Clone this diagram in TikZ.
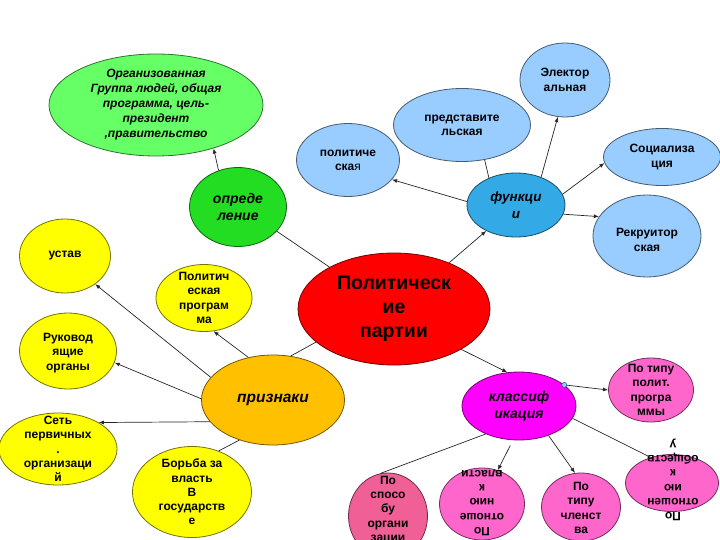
\documentclass[tikz,border=0pt]{standalone}
\usepackage{fontspec}
\setmainfont{Liberation Sans}
\usetikzlibrary{arrows.meta,shapes.geometric}
\definecolor{partyGreenLight}{RGB}{102,255,102}
\definecolor{partyGreen}{RGB}{34,221,34}
\definecolor{partyRed}{RGB}{255,0,0}
\definecolor{partyBlue}{RGB}{51,170,230}
\definecolor{partyBlueLight}{RGB}{153,204,255}
\definecolor{partyYellow}{RGB}{255,255,0}
\definecolor{partyOrange}{RGB}{255,192,0}
\definecolor{partyMagenta}{RGB}{255,0,255}
\definecolor{partyPink}{RGB}{255,102,204}
\definecolor{partyRose}{RGB}{240,96,150}

\begin{document}
\begin{tikzpicture}[
  x=1pt, y=-1pt,
  bubble/.style={ellipse, fill=#1, draw=#1!45!black, line width=0.8pt, inner sep=0pt},
  sz/.style 2 args={minimum width=#1pt, minimum height=#2pt},
  txt/.style={align=center, inner sep=0pt, font=\bfseries\fontsize{12}{14.3}\selectfont},
  head/.style={align=center, inner sep=0pt, font=\bfseries\itshape\fontsize{14}{17}\selectfont},
  link/.style={draw=black!85, line width=0.7pt},
  arrow/.style={link, -{Latex[length=1.8mm, width=1.4mm]}}
]
\useasboundingbox (0,0) rectangle (720,540);
\clip (0,0) rectangle (720,540);

% centre and definition
\node[bubble=partyRed, sz={192}{112}] (part) at (394,309) {};
\node[bubble=partyGreen, sz={97}{79}] (opr) at (238,207) {};
\node[bubble=partyGreenLight, sz={214}{102}] (org) at (156,105) {};

% functions
\node[bubble=partyBlue, sz={98}{64}] (fun) at (516,205) {};
\node[bubble=partyBlueLight, sz={103}{73}] (pol) at (348,160) {};
\node[bubble=partyBlueLight, sz={137}{73}] (pred) at (462,125) {};
\node[bubble=partyBlueLight, sz={90}{74}] (elec) at (565,80) {};
\node[bubble=partyBlueLight, sz={117}{57}] (soc) at (662,157) {};
\node[bubble=partyBlueLight, sz={108}{82}] (rek) at (647,236) {};

% features
\node[bubble=partyOrange, sz={143}{90}] (priz) at (273,400) {};
\node[bubble=partyYellow, sz={91}{74}] (ust) at (65,256) {};
\node[bubble=partyYellow, sz={96}{67}] (prog) at (204,298) {};
\node[bubble=partyYellow, sz={97}{76}] (ruk) at (68,351) {};
\node[bubble=partyYellow, sz={118}{72}] (net) at (58,449) {};
\node[bubble=partyYellow, sz={119}{91}] (bor) at (192,492) {};

% classification
\node[bubble=partyMagenta, sz={114}{68}] (cls) at (519,406) {};
\node[bubble=partyPink, sz={85}{64}] (tip) at (651,390) {};
\node[bubble=partyRose, sz={79}{86}] (spos) at (388,516) {};
\node[bubble=partyPink, sz={85}{72}] (vlast) at (482,504) {};
\node[bubble=partyPink, sz={79}{68}] (chl) at (581,507) {};
\node[bubble=partyPink, sz={93}{57}] (obsh) at (672,483) {};
\node[circle, fill=partyBlueLight, draw=partyBlue!50!black, line width=0.5pt,
      inner sep=0pt, minimum size=5pt] (hnd) at (cls.25) {};

% texts
\node[txt, font=\bfseries\fontsize{19.5}{24}\selectfont] (partT) at (part) {Политическ\\ие\\партии};
\node[head] (oprT) at (opr) {опреде\\ление};
\node[txt, font=\bfseries\itshape\fontsize{12}{15}\selectfont] (orgT) at (org)
  {Организованная\\Группа людей, общая\\программа, цель-\\президент\\,правительство};
\node[head, font=\bfseries\itshape\fontsize{13.5}{17}\selectfont] (funT) at (fun) {функци\\и};
\node[txt] (polT) at (pol) {политиче\\ска{\mdseries я}};
\node[txt] (predT) at (pred) {представите\\льская};
\node[txt] (elecT) at (elec) {Электор\\альная};
\node[txt] (socT) at (soc) {Социализа\\ция};
\node[txt] (rekT) at (647,240) {Рекруитор\\ская};
\node[head, font=\bfseries\itshape\fontsize{15.5}{17}\selectfont] (prizT) at (priz) {признаки};
\node[txt] (ustT) at (ust) {устав};
\node[txt] (progT) at (prog) {Политич\\еская\\програм\\ма};
\node[txt] (rukT) at (68,353) {Руковод\\ящие\\органы};
\node[txt] (netT) at (net) {Сеть\\первичных\\.\\организаци\\й};
\node[txt] (borT) at (bor) {Борьба за\\власть\\В\\государств\\е};
\node[head] (clsT) at (cls) {классиф\\икация};
\node[txt] (tipT) at (tip) {По типу\\полит.\\програ\\ммы};
\node[txt] (sposT) at (388,510) {По\\спосо\\бу\\органи\\зации};
\node[txt, rotate=180] (vlastT) at (482,503) {По\\отноше\\нию\\к\\власти};
\node[txt] (chlT) at (581,508) {По\\типу\\членст\\ва};
\node[txt, rotate=180] (obshT) at (673,480) {По\\отношен\\ию\\к\\обществ\\у};

% connectors
\draw[link] (part.147) -- (opr.-32);
\draw[arrow] (opr.118) -- (org.-37);
\draw[arrow] (part.40) -- (fun.-139);
\draw[arrow] (fun.176) -- (pol.-24);
\draw[link] (fun.135) -- (pred.-57);
\draw[arrow] (fun.48) -- (elec.-101);
\draw[arrow] (fun.13) -- (soc.-174);
\draw[arrow] (fun.-11) -- (rek.158);
\draw[link] (part.203) -- (priz.68);
\draw[arrow] (priz.120) -- (prog.-74);
\draw[arrow] (priz.160) -- (ust.-43);
\draw[arrow] (priz.179) -- (ruk.-14);
\draw[arrow] (priz.199) -- (net.33);
\draw[link] (priz.230) -- (bor.57);
\draw[arrow] (part.-31) -- (cls.109);
\draw[arrow] (hnd) -- (tip.west);
\draw[link] (cls.220) -- (spos.100);
\draw[arrow, shorten <=6pt] (cls.-100) -- (vlast.65);
\draw[arrow] (cls.-45) -- (chl.100);
\draw[link] (cls.-13.5) -- (obsh.130);
\end{tikzpicture}
\end{document}
